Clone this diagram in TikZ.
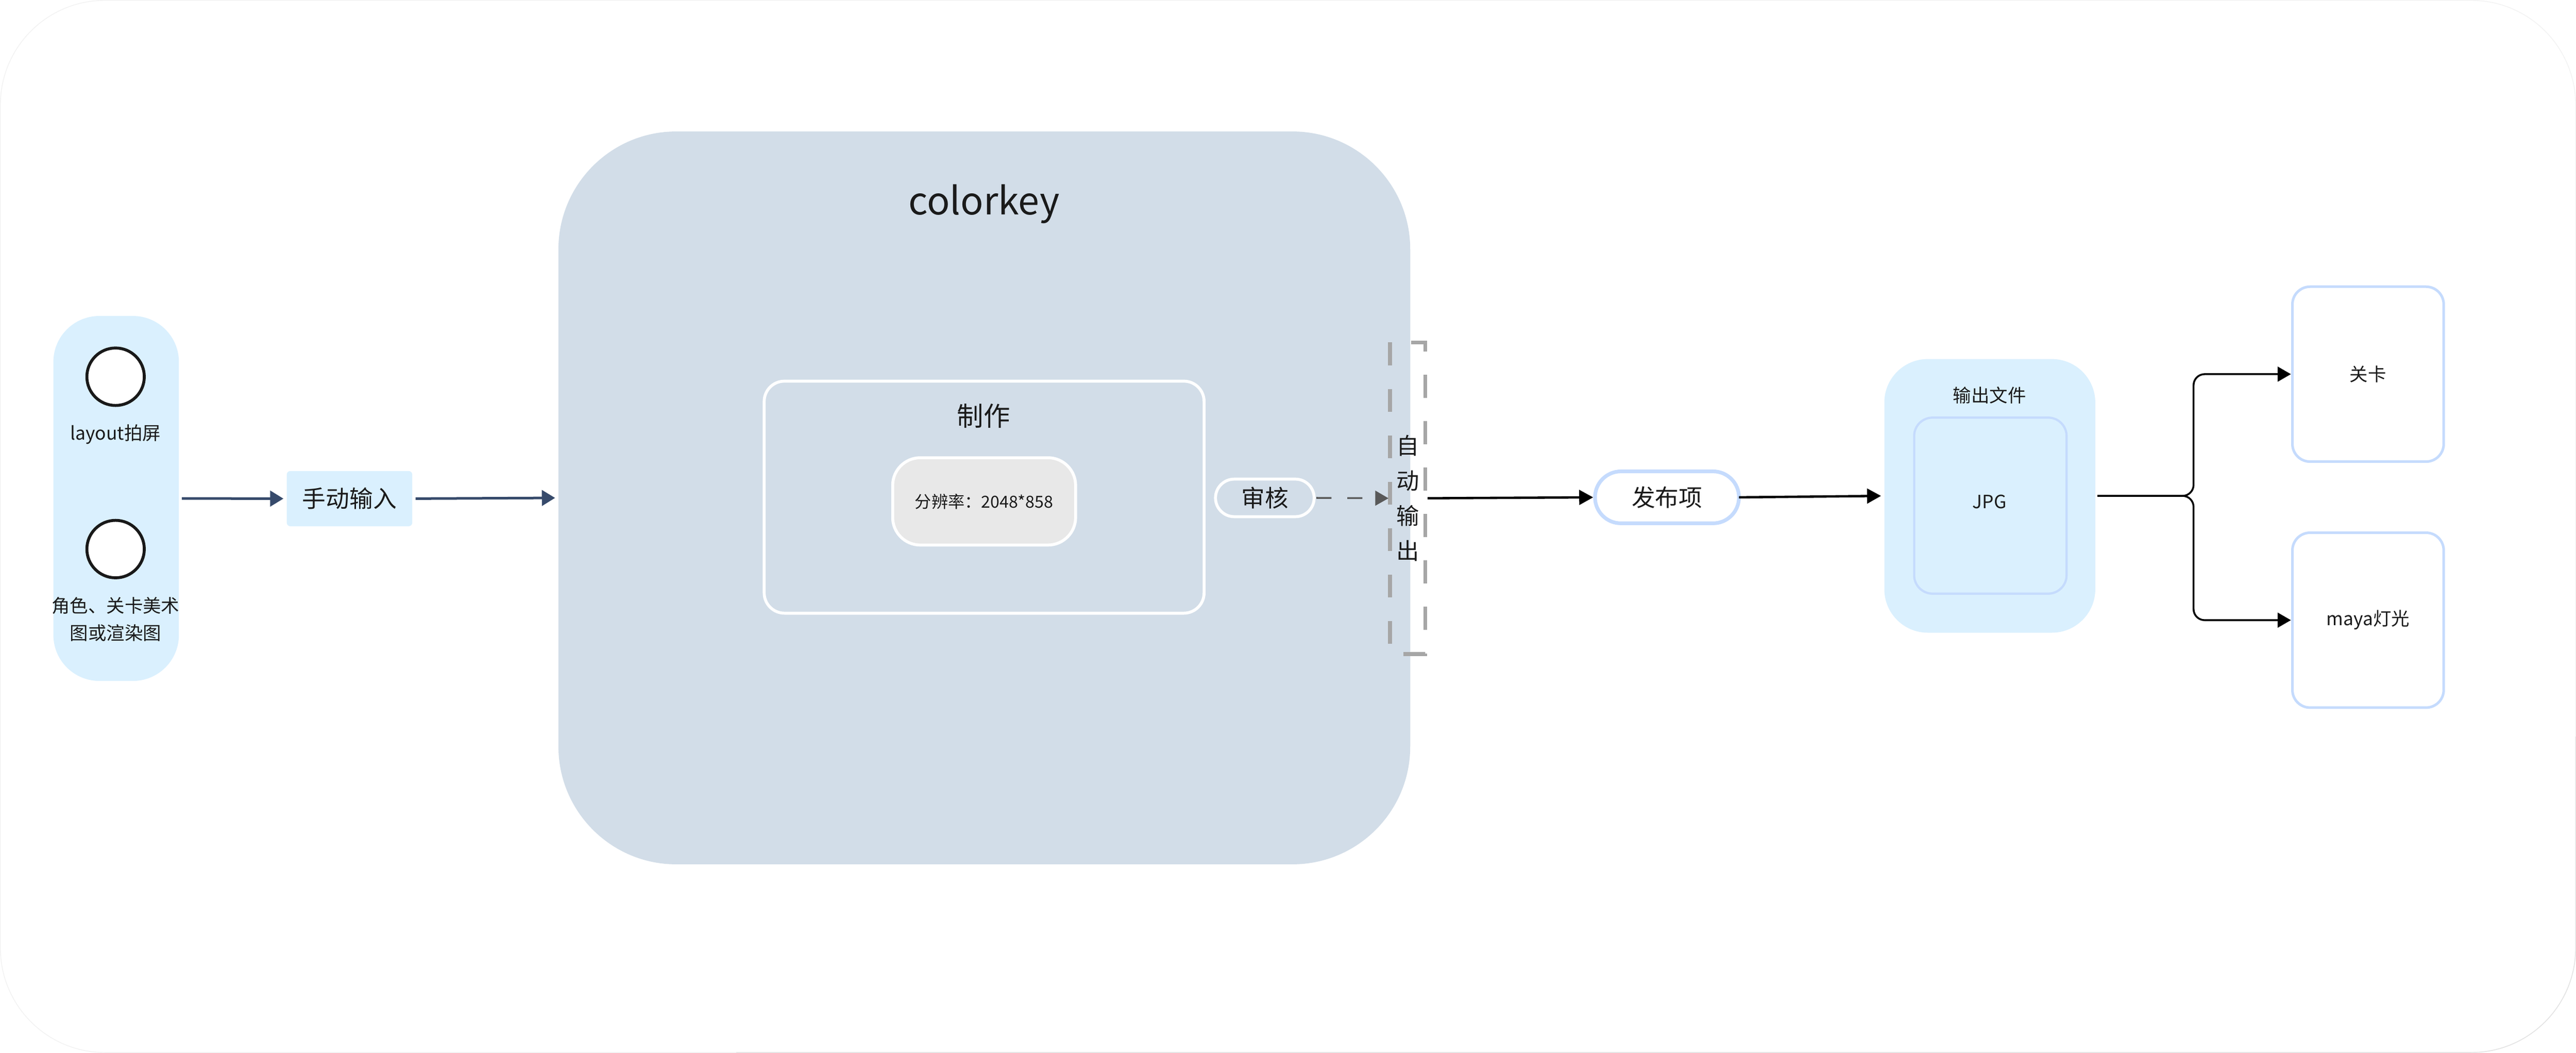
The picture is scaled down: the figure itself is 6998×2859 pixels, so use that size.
\documentclass[tikz,border=0pt]{standalone}
\usepackage{fontspec}
\setmainfont{Noto Sans CJK SC}
\usetikzlibrary{arrows.meta}
\definecolor{panelblue}{HTML}{D2DDE8}
\definecolor{lblue}{HTML}{DAF0FE}
\definecolor{bblue}{HTML}{C5DBFD}
\definecolor{slate}{HTML}{364A6B}
\definecolor{graybox}{HTML}{E8E8E8}
\definecolor{dashgray}{HTML}{A6A6A6}
\definecolor{arrowgray}{HTML}{595959}
\definecolor{txt}{HTML}{1A1A1A}
\begin{document}
\begin{tikzpicture}[x=0.25pt,y=-0.25pt,
  every node/.style={inner sep=0pt, outer sep=0pt, text=txt},
  fsA/.style={font=\fontsize{12.4pt}{18.5pt}\selectfont},
  fsB/.style={font=\fontsize{16pt}{23.75pt}\selectfont},
  panel/.style={rectangle, fill=#1, draw=none},
  wbox/.style={rectangle, draw=white, line width=2pt},
  bbox/.style={rectangle, draw=bblue, line width=1.75pt},
  ring/.style={circle, draw=black!90, line width=2pt, fill=white, minimum size=39pt},
  slatearrow/.style={draw=slate, line width=1.75pt, -{Triangle[length=9pt,width=10.5pt]}},
  blackarrow/.style={draw=black, line width=1.6pt, -{Triangle[length=9.5pt,width=10pt]}},
  dasharrow/.style={draw=arrowgray, line width=1.25pt, dash pattern=on 10.25pt off 10.75pt, -{Triangle[length=9pt,width=10pt]}},
  forkarrow/.style={draw=black, line width=1.25pt, rounded corners=7.5pt, -{Triangle[length=9pt,width=10pt]}}
]
\useasboundingbox (0,0) rectangle (6998,2859);
\fill[white] (0,0) rectangle (6998,2859);
\draw[draw=black!5, line width=0.5pt, rounded corners=71pt] (1,1) rectangle (6997,2858);
\draw[draw=black!11, line width=0.5pt] (6997,2000) -- (6997,2574) arc[start angle=0, end angle=90, x radius=71pt, y radius=-71pt] -- (2000,2858);

% left input panel
\node[panel=lblue, rounded corners=31.25pt, minimum width=85.25pt, minimum height=247.75pt] (inp) at (315.5,1353.5) {};
\node[ring] (c1) at (314,1023) {};
\node[fsA] (t1) at (314,1179) {layout拍屏};
\node[ring] (c2) at (314,1491) {};
\node[fsA, align=center] (t2) at (314,1681) {角色、关卡美术\\图或渲染图};

% manual input
\node[panel=lblue, rounded corners=2.5pt, minimum width=85.25pt, minimum height=37.5pt, fsB] (manual) at (949.5,1354) {手动输入};

% colorkey panel
\node[panel=panelblue, rounded corners=80pt, minimum width=578.5pt, minimum height=497.5pt] (ck) at (2674,1352) {};
\node[anchor=base, font=\fontsize{25.75pt}{30pt}\selectfont] (cktitle) at (2673,583) {colorkey};
\node[wbox, rounded corners=13.75pt, minimum width=298.75pt, minimum height=157.5pt] (make) at (2673.5,1350) {};
\node[font=\fontsize{18pt}{22pt}\selectfont] (maketitle) at (2672,1130) {制作};
\node[wbox, fill=graybox, rounded corners=18.75pt, minimum width=124.25pt, minimum height=59.25pt, font=\fontsize{11.25pt}{14pt}\selectfont] (res) at (2673.5,1361.5) {分辨率：2048*858};
\node[wbox, rounded corners=12.75pt, minimum width=67pt, minimum height=25.5pt, fsB] (review) at (3436,1352) {审核};

% auto output (dashed frame)
\node[minimum width=24pt, minimum height=211.5pt, align=center, font=\fontsize{15.5pt}{23.75pt}\selectfont] (auto) at (3824,1353) {自\\动\\输\\出};
\draw[draw=dashgray, line width=2.6pt, dash pattern=on 15.5pt off 16pt] (auto.north west) rectangle (auto.south east);

% publish
\node[bbox, fill=white, line width=2.5pt, rounded corners=17.6pt, minimum width=97.75pt, minimum height=35.25pt, fsB] (pub) at (4528.5,1350.5) {发布项};

% output files
\node[panel=lblue, rounded corners=29.5pt, minimum width=143.25pt, minimum height=185.75pt] (outp) at (5405.5,1346.5) {};
\node[fsA] (outtitle) at (5405,1073) {输出文件};
\node[bbox, fill=lblue, line width=1.5pt, rounded corners=12.5pt, minimum width=103.5pt, minimum height=119.5pt] (jpg) at (5407,1373) {};
\node[fsA] (jpgt) at (5405,1363) {JPG};

% targets
\node[bbox, fill=white, rounded corners=12pt, minimum width=102.75pt, minimum height=118.75pt, fsA] (gk) at (6433,1016) {关卡};
\node[bbox, fill=white, rounded corners=12pt, minimum width=102.75pt, minimum height=118.75pt, fsA] (maya) at (6433,1684) {maya灯光};

% connectors
\draw[slatearrow, shorten <=2pt, shorten >=2.25pt] (inp.east) -- (manual.west);
\draw[slatearrow, shorten <=2.25pt, shorten >=2.25pt] (manual.east) -- (ck.west);
\draw[dasharrow, shorten <=1.5pt, shorten >=1pt] (review.east) -- (auto.west);
\draw[blackarrow, shorten <=1.5pt, shorten >=1.25pt] (auto.east) -- (pub.west);
\draw[blackarrow, shorten <=0pt, shorten >=2.25pt] (pub.east) -- (outp.west);
\coordinate (fork) at (5959,1346.5);
\draw[forkarrow, shorten <=1.5pt, shorten >=1pt] (outp.east) -- (fork) |- (gk.west);
\draw[forkarrow, shorten <=1.5pt, shorten >=1pt] (outp.east) -- (fork) |- (maya.west);
\end{tikzpicture}
\end{document}
